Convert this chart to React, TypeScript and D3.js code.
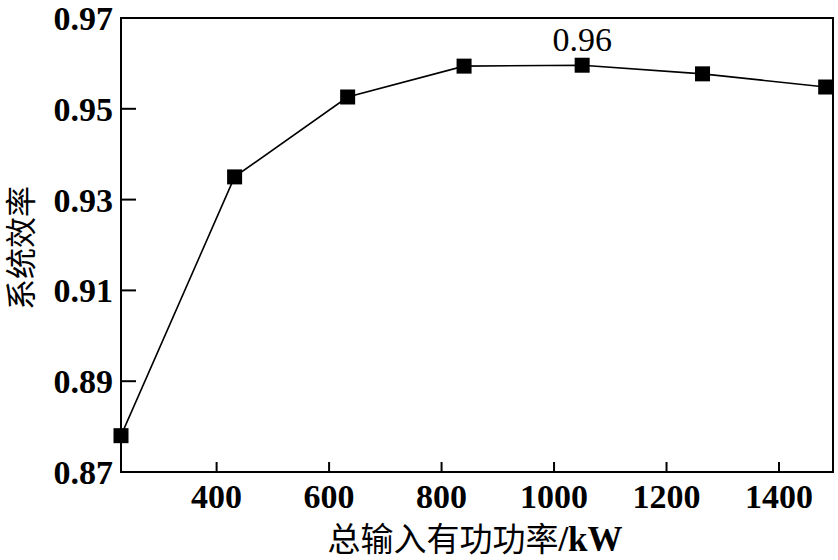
import React from "react";
import * as d3 from "d3";

const powerKW = [230, 432, 633, 840, 1050, 1264, 1483];
const efficiency = [0.878, 0.935, 0.9526, 0.9594, 0.9596, 0.9577, 0.9548];
const xTicks = [400, 600, 800, 1000, 1200, 1400];
const yTicks = [0.87, 0.89, 0.91, 0.93, 0.95, 0.97];
const annotationText = "0.96";
const annotationIndex = 4;
const xTitleCJK = "总输入有功功率";
const xTitleUnit = "/kW";
const yTitle = "系统效率";

const W = 838, H = 560;
const M = { left: 121, top: 18, right: 833, bottom: 472 };
const serif = "'Liberation Serif', 'Times New Roman', serif";
const cjk = "'Noto Sans CJK SC', sans-serif";

export default function App() {
  const x = d3.scaleLinear().domain([230, 1496]).range([M.left, M.right]);
  const y = d3.scaleLinear().domain([0.87, 0.97]).range([M.bottom, M.top]);
  const line = d3.line<number>().x((_, i) => x(powerKW[i])).y((d) => y(d));
  const ms = 15;
  return (
    <svg width={W} height={H} style={{ position: "absolute", left: 0, top: 0, background: "#fff" }}>
      <rect x={M.left} y={M.top} width={M.right - M.left} height={M.bottom - M.top} fill="none" stroke="#000" strokeWidth={2} />
      {yTicks.map((t) => (
        <g key={"y" + t}>
          <line x1={M.left} x2={M.left + 15} y1={y(t)} y2={y(t)} stroke="#000" strokeWidth={2} />
          <text x={M.left - 8} y={y(t)} dy="0.35em" textAnchor="end" fontFamily={serif} fontSize={34} fontWeight="bold">
            {t.toFixed(2)}
          </text>
        </g>
      ))}
      {xTicks.map((t) => (
        <g key={"x" + t}>
          <line x1={x(t)} x2={x(t)} y1={M.bottom} y2={M.bottom - 10} stroke="#000" strokeWidth={2} />
          <text x={x(t)} y={M.bottom + 36} textAnchor="middle" fontFamily={serif} fontSize={34} fontWeight="bold">
            {t}
          </text>
        </g>
      ))}
      <path d={line(efficiency) || ""} fill="none" stroke="#000" strokeWidth={1.6} />
      {efficiency.map((v, i) => (
        <rect key={i} x={x(powerKW[i]) - ms / 2} y={y(v) - ms / 2} width={ms} height={ms} fill="#000" />
      ))}
      <text x={x(powerKW[annotationIndex])} y={y(efficiency[annotationIndex]) - 14} textAnchor="middle" fontFamily={serif} fontSize={34}>
        {annotationText}
      </text>
      <text x={475} y={551} textAnchor="middle" fontFamily={cjk} fontSize={33}>
        {xTitleCJK}
        <tspan fontFamily={serif} fontWeight="bold" fontSize={35}>{xTitleUnit}</tspan>
      </text>
      <text transform="translate(32,248) rotate(-90)" textAnchor="middle" fontFamily={cjk} fontSize={31}>
        {yTitle}
      </text>
    </svg>
  );
}
